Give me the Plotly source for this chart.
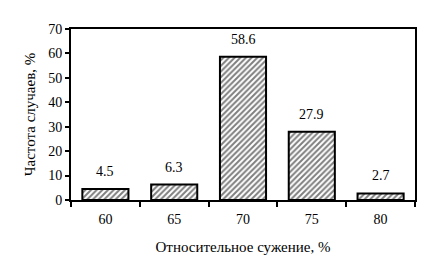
import plotly.graph_objects as go

categories = ["60", "65", "70", "75", "80"]
values = [4.5, 6.3, 58.6, 27.9, 2.7]
labels = ["4.5", "6.3", "58.6", "27.9", "2.7"]
y_ticks = [0, 10, 20, 30, 40, 50, 60, 70]

font = "Liberation Serif, Times New Roman, serif"

fig = go.Figure()
fig.add_trace(go.Bar(
    x=categories, y=values,
    marker=dict(color="white",
                line=dict(color="black", width=2),
                pattern=dict(shape="/", size=4, solidity=0.5, fgcolor="black", bgcolor="white")),
    width=0.67,
    hoverinfo="skip",
))
for i, (v, t) in enumerate(zip(values, labels)):
    fig.add_annotation(x=i, y=v, xref="x", yref="y", text=t, showarrow=False,
                       yanchor="bottom", yshift=8,
                       font=dict(family=font, size=14, color="black"))

fig.update_layout(
    width=430, height=278,
    margin=dict(l=71, r=15, t=29, b=78),
    paper_bgcolor="white", plot_bgcolor="white",
    showlegend=False,
    font=dict(family=font, size=14, color="black"),
)
fig.update_xaxes(
    type="category", range=[-0.5, 4.5], tickson="boundaries", ticks="outside", ticklen=5, tickwidth=1.5,
    tickcolor="black", showline=True, linecolor="black", linewidth=2, mirror=True,
    showgrid=False, tickfont=dict(size=14), tickangle=0, ticklabelstandoff=5,
    title=dict(text="Относительное сужение, %", font=dict(size=15), standoff=16),
)
fig.update_yaxes(
    range=[0, 70], tickvals=y_ticks, ticks="outside", ticklen=4, tickwidth=1.5,
    tickcolor="black", showline=True, linecolor="black", linewidth=2, mirror=True,
    showgrid=False, zeroline=False, tickfont=dict(size=14),
    title=dict(text="Частота случаев, %", font=dict(size=15), standoff=9),
)
fig.write_html("out.html")
